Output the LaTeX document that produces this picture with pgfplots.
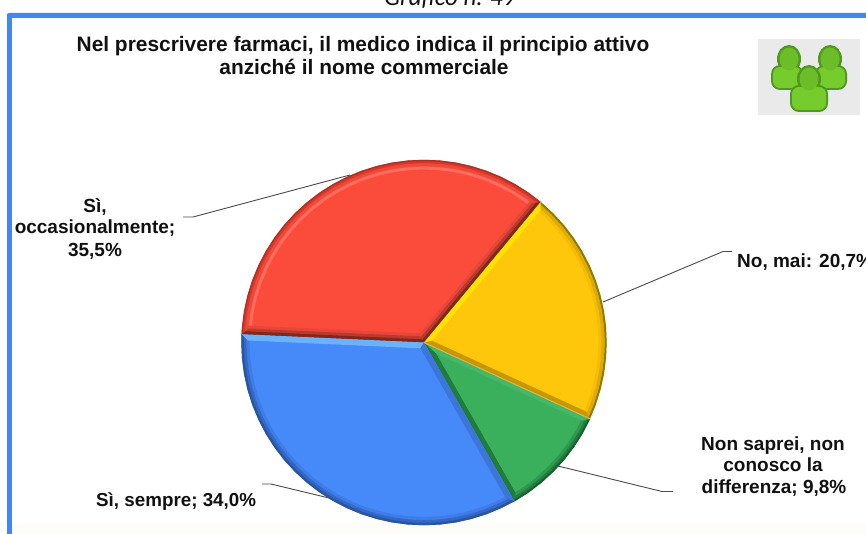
\documentclass[border=0pt]{standalone}
\usepackage{fontspec}
\setmainfont{Liberation Sans}
\newfontfamily\topfont{Carlito}
\usepackage{pgfplots}
\usepackage{pgfplotstable}
\pgfplotsset{compat=1.18}
\definecolor{frameblue}{HTML}{4485F4}
\definecolor{cream}{HTML}{FDFCF9}
\definecolor{iconbg}{HTML}{EAEAEA}
\definecolor{icond}{HTML}{4F9A1E}
\definecolor{iconb}{HTML}{76CC2C}
\definecolor{iconh}{HTML}{6CBE28}
\definecolor{leader}{HTML}{4A4A4A}
\definecolor{ink}{HTML}{111111}
\definecolor{cred}{HTML}{FB4C3B}
\definecolor{cyellow}{HTML}{FEC70B}
\definecolor{cgreen}{HTML}{3BB05C}
\definecolor{cblue}{HTML}{4689F9}
\definecolor{ra}{HTML}{FF6C5E}
\definecolor{rb}{HTML}{F04839}
\definecolor{rc}{HTML}{D63A2C}
\definecolor{rd}{HTML}{B03026}
\definecolor{rg}{HTML}{E8463A}
\definecolor{re}{HTML}{BC3A2C}
\definecolor{rf}{HTML}{7E2820}
\definecolor{ya}{HTML}{F6BC08}
\definecolor{yb}{HTML}{DDAB05}
\definecolor{yc}{HTML}{8F7A10}
\definecolor{yd}{HTML}{FFE200}
\definecolor{ye}{HTML}{C89600}
\definecolor{yf}{HTML}{E0B840}
\definecolor{ga}{HTML}{2F9A4E}
\definecolor{gb}{HTML}{217F3F}
\definecolor{gc}{HTML}{176030}
\definecolor{gd}{HTML}{46B768}
\definecolor{ge}{HTML}{1F7C3D}
\definecolor{ba}{HTML}{3F7DE6}
\definecolor{bb}{HTML}{3468C8}
\definecolor{bc}{HTML}{2A559F}
\definecolor{bd}{HTML}{6AB2FC}
\definecolor{be}{HTML}{3D76DA}
% angle (deg) / radius; row 0 is the pie centre
\pgfplotstableread{
a r
50.3 0
50.3 182.7
55 182.7
60 182.7
65 182.7
70 182.7
75 182.7
80 182.7
85 182.7
90 182.7
95 182.7
100 182.7
105 182.7
110 182.7
115 182.7
120 182.7
125 182.7
130 182.7
135 182.7
140 182.7
145 182.7
150 182.7
155 182.7
160 182.7
165 182.7
170 182.7
175 182.7
177.4 182.7
}\slicered
\pgfplotstableread{
a r
-24.7 0
-24.7 182.7
-20 182.7
-15 182.7
-10 182.7
-5 182.7
0 182.7
5 182.7
10 182.7
15 182.7
20 182.7
25 182.7
30 182.7
35 182.7
40 182.7
45 182.7
50.3 182.7
}\sliceyellow
\pgfplotstableread{
a r
-60.3 0
-60.3 182.7
-55 182.7
-50 182.7
-45 182.7
-40 182.7
-35 182.7
-30 182.7
-24.7 182.7
}\slicegreen
\pgfplotstableread{
a r
177.4 0
177.4 182.7
180 182.7
185 182.7
190 182.7
195 182.7
200 182.7
205 182.7
210 182.7
215 182.7
220 182.7
225 182.7
230 182.7
235 182.7
240 182.7
245 182.7
250 182.7
255 182.7
260 182.7
265 182.7
270 182.7
275 182.7
280 182.7
285 182.7
290 182.7
295 182.7
299.7 182.7
}\sliceblue
\newcommand{\rim}[4]{\addplot[draw=#4,line width=#3pt,fill=none,data cs=polar,skip coords between index={0}{1}] table[x=a,y expr=#2] {#1};}
\begin{document}
\begin{tikzpicture}
\useasboundingbox (0,0) rectangle (866pt,533pt);
\clip (0,0) rectangle (866pt,533pt);
\begin{scope}[shift={(0pt,533pt)},x=1pt,y=-1pt]
\fill[white] (0,0) rectangle (866,533);
\fill[cream] (0,522) rectangle (866,533);
\fill[frameblue,rounded corners=2pt] (7,13) rectangle (880,560);
\fill[white] (12,18) rectangle (880,522);
\fill[cream] (12,522) rectangle (880,560);
% icon
\fill[iconbg] (758,39) rectangle (860,115);
\end{scope}
\begin{axis}[at={(0,0)},anchor=south west,scale only axis,width=866pt,height=533pt,
  xmin=-424,xmax=442,ymin=-190.5,ymax=342.5,hide axis,clip=false]
% slices
\addplot[fill=cred,draw=none,data cs=polar] table[x=a,y=r] {\slicered};
\addplot[fill=cyellow,draw=none,data cs=polar] table[x=a,y=r] {\sliceyellow};
\addplot[fill=cgreen,draw=none,data cs=polar] table[x=a,y=r] {\slicegreen};
\addplot[fill=cblue,draw=none,data cs=polar] table[x=a,y=r] {\sliceblue};
% rims
\rim{\slicered}{174.5}{3}{ra}
\rim{\slicered}{178}{2.5}{rb}
\rim{\slicered}{180.5}{2.5}{rc}
\rim{\slicered}{182}{1.5}{rd}
\rim{\sliceyellow}{176}{3}{ya}
\rim{\sliceyellow}{179}{3}{yb}
\rim{\sliceyellow}{181.7}{2}{yc}
\rim{\slicegreen}{177}{3}{ga}
\rim{\slicegreen}{180}{3}{gb}
\rim{\slicegreen}{182}{2}{gc}
\rim{\sliceblue}{176}{3}{ba}
\rim{\sliceblue}{179}{3}{bb}
\rim{\sliceblue}{181.5}{2.5}{bc}
% edge bevels
\addplot[fill=rg,draw=none,data cs=polar] coordinates {(50.3,0)(50.3,182.7)(53.2,176)(113.85,10)};
\addplot[fill=rg,draw=none,data cs=polar] coordinates {(177.4,0)(177.4,182.7)(174.5,176)(113.85,10)};
\addplot[fill=re,draw=none,data cs=polar] coordinates {(50.3,0)(50.3,182.7)(52.25,176)(113.85,6.7)};
\addplot[fill=re,draw=none,data cs=polar] coordinates {(177.4,0)(177.4,182.7)(175.45,176)(113.85,6.7)};
\addplot[fill=rf,draw=none,data cs=polar] coordinates {(50.3,0)(50.3,182.7)(51.3,179)(113.85,3.4)};
\addplot[fill=rf,draw=none,data cs=polar] coordinates {(177.4,0)(177.4,182.7)(176.4,179)(113.85,3.4)};
\addplot[fill=yd,draw=none,data cs=polar] coordinates {(50.3,0)(50.3,182.7)(48.67,176)(12.8,8.2)};
\addplot[fill=ye,draw=none,data cs=polar] coordinates {(-24.7,0)(-24.7,182.7)(-23.07,176)(12.8,8.2)};
\addplot[fill=gd,draw=none,data cs=polar] coordinates {(-24.7,0)(-24.7,182.7)(-26.33,176)(-42.5,16.4)};
\addplot[fill=ge,draw=none,data cs=polar] coordinates {(-60.3,0)(-60.3,182.7)(-58.67,176)(-42.5,16.4)};
\addplot[fill=bd,draw=none,data cs=polar] coordinates {(177.4,0)(177.4,182.7)(179.35,176)(238.55,6.85)};
\addplot[fill=be,draw=none,data cs=polar] coordinates {(299.7,0)(299.7,182.7)(297.75,176)(238.55,6.85)};
\addplot[draw=yf,line width=1pt,data cs=polar] coordinates {(-24.7,0)(-24.7,182.7)};
% leader lines
\addplot[draw=leader,line width=0.9pt] coordinates {(-241,125.5)(-231,125.5)(-74,167.5)};
\addplot[draw=leader,line width=0.9pt] coordinates {(308,91)(299,91)(179,40.5)};
\addplot[draw=leader,line width=0.9pt] coordinates {(249,-149)(238,-149)(134,-123.5)};
\addplot[draw=leader,line width=0.9pt] coordinates {(-162,-141.5)(-153,-141.5)(-95,-155.5)};
\end{axis}
\begin{scope}[shift={(0pt,533pt)},x=1pt,y=-1pt]
% icon people
\foreach \hx/\hy/\xa/\ya/\xb/\yb in {789/59/771/65/803/90,830/59/815/65/847/90,809/79/790/85/828/112}{
  \fill[icond,rounded corners=9pt] (\xa,\ya) rectangle (\xb,\yb);
  \fill[icond] (\hx,\hy) ellipse (12 and 14);
  \fill[iconb,rounded corners=7pt] (\xa+2,\ya+2) rectangle (\xb-2,\yb-2);
  \fill[iconh] (\hx,\hy) ellipse (9.5 and 11.5);
}
% text
\tikzset{t/.style={inner sep=0pt,anchor=base,text=ink}}
\node[t] at (450,6) {\fontsize{25}{25}\selectfont\topfont\itshape Grafico n. 49};
\node[t] at (363,52) {\fontsize{20.9}{21}\selectfont\bfseries Nel prescrivere farmaci, il medico indica il principio attivo};
\node[t] at (364,75) {\fontsize{20.9}{21}\selectfont\bfseries anziché il nome commerciale};
\node[t] at (95,213) {\fontsize{19}{19}\selectfont\bfseries Sì,};
\node[t] at (95,234) {\fontsize{19}{19}\selectfont\bfseries occasionalmente;};
\node[t] at (95,257) {\fontsize{19}{19}\selectfont\bfseries 35,5\%};
\node[t,anchor=base west] at (737,268) {\fontsize{19}{19}\selectfont\bfseries No, mai: 20,7\%};
\node[t] at (773,450) {\fontsize{19}{19}\selectfont\bfseries Non saprei, non};
\node[t] at (773,471) {\fontsize{19}{19}\selectfont\bfseries conosco la};
\node[t] at (774,493) {\fontsize{19}{19}\selectfont\bfseries differenza; 9,8\%};
\node[t,anchor=base west] at (96,506) {\fontsize{18.8}{19}\selectfont\bfseries Sì, sempre; 34,0\%};
\end{scope}
\end{tikzpicture}
\end{document}
